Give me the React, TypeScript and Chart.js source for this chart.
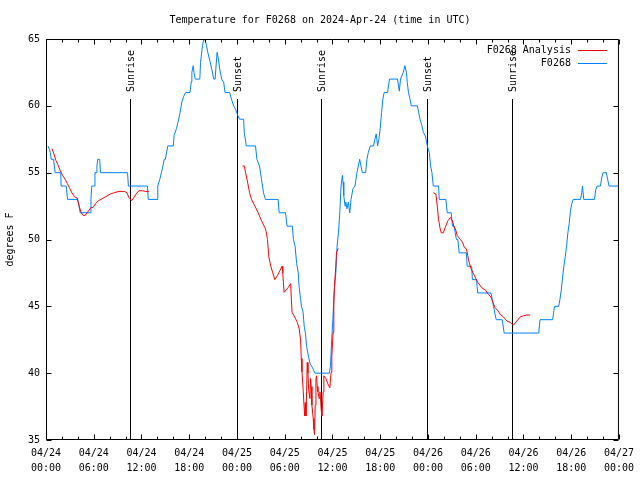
import React, { useEffect, useRef } from "react";
import { Chart, registerables } from "chart.js";

Chart.register(...registerables);

// Hours since 04/24 00:00 UTC
const obsHours = [
  0.25, 0.45, 0.55, 0.65, 0.95, 1.15, 1.85, 1.9, 2.55, 2.7, 4.0, 4.15, 4.3, 5.55, 5.65, 5.75, 6.05, 6.15, 6.3, 6.4,
  6.5, 6.75, 6.85, 10.25, 10.35, 12.75, 12.85, 13.95, 14.05, 14.3, 14.5, 14.7, 14.85, 15.0, 15.3, 16.0,
  16.1, 16.4, 16.67, 16.85, 17.08, 17.3, 17.55, 18.1, 18.25, 18.33, 18.5, 18.6, 18.75, 19.33, 19.42, 19.67, 19.83,
  20.0, 20.17, 20.33, 20.58, 20.83, 21.08, 21.25, 21.5, 21.67, 21.83, 22.08, 22.33, 22.5, 23.08, 23.25, 23.58,
  23.83, 24.08, 24.33, 24.83, 24.92, 25.17, 26.33, 26.5, 26.83, 27.08, 27.33, 27.58, 29.17, 29.3, 30.1, 30.3,
  30.95, 31.1, 31.3, 31.5, 31.7, 31.8, 32.0, 32.1, 32.3, 32.45, 32.6, 32.75, 33.0, 33.2, 33.5, 33.8, 35.6,
  35.75, 35.9, 36.05, 36.2, 36.42, 36.58, 36.75, 36.92, 37.08, 37.25, 37.33, 37.42, 37.58, 37.67, 37.83, 38.0,
  38.17, 38.33, 38.58, 38.83, 39.08, 39.25, 39.42, 39.58, 39.75, 40.17, 40.33, 40.5, 40.75, 41.17, 41.33, 41.5,
  41.67, 41.83, 42.0, 42.17, 42.33, 42.5, 42.92, 43.17, 44.17, 44.4, 44.55, 44.9, 45.1, 45.3, 45.4, 45.55,
  45.75, 45.9, 46.67, 46.83, 47.0, 47.25, 47.42, 47.67, 47.92, 48.17, 48.33, 48.5, 48.67, 49.33, 49.42, 50.25,
  50.42, 50.92, 51.08, 51.3, 51.42, 51.58, 51.75, 51.92, 52.83, 52.92, 53.5, 53.58, 54.1, 54.25, 55.92, 56.08,
  56.25, 56.4, 56.58, 57.33, 57.58, 61.92, 62.08, 63.67, 63.83, 63.92, 64.42, 64.58, 64.75, 64.92, 65.08, 65.25,
  65.42, 65.58, 65.75, 65.92, 66.08, 66.25, 67.17, 67.33, 67.42, 67.58, 68.92, 69.08, 69.25, 69.67, 69.83, 70.0,
  70.42, 70.58, 70.75, 71.9,
];
const obsTemps = [
  57, 56.7, 56.5, 56, 56, 55, 55, 54, 54, 53, 53, 52.5, 52, 52, 53, 54, 54, 55, 55, 55.5,
  56, 56, 55, 55, 54, 54, 53, 53, 54, 54.5, 55, 55.5, 56, 56, 57, 57,
  57.8, 58.3, 59, 59.5, 60.3, 60.7, 61, 61, 61.8, 62.5, 63, 62.5, 62, 62, 63.25, 64.5, 65,
  64.9, 64.5, 64, 63.4, 62.75, 62, 62, 64, 63.5, 62.75, 62, 61.75, 61, 61, 60.6, 60,
  59.75, 59.3, 59, 59, 58, 57, 57, 56, 55.5, 54.5, 53.5, 53, 53, 52, 52, 51,
  51, 50, 49.5, 48.2, 47.5, 46.5, 45.5, 45, 44.6, 43.5, 43, 42, 41.2, 40.7, 40.4, 40, 40,
  40.5, 42.5, 44, 46, 47.5, 49.5, 50.5, 52, 54, 54.8, 54.3, 53.3, 52.5, 52.8, 52.3, 52.8,
  52, 53, 53.8, 54, 55, 55.5, 56, 55.5, 55, 55, 56, 56.5, 57, 57, 57.5, 57.9,
  57, 57.5, 58.3, 59.5, 60.5, 61, 61, 62, 62, 61.1, 62, 62.5, 63, 62.5, 61.75, 61,
  60.5, 60, 60, 59.5, 59, 58.5, 58, 57.75, 57, 56.5, 55.5, 55, 54, 54, 53, 53,
  52, 52, 51, 51, 50.5, 50, 50, 49, 49, 48, 48, 47, 47, 46, 46, 45.5,
  45, 44.5, 44, 44, 43, 43, 44, 44, 44.7, 45, 45, 45.5, 46.2, 47.2, 48, 48.7,
  49.5, 50.5, 51.2, 52.2, 52.7, 53, 53, 53.5, 54, 53, 53, 53.7, 54, 54, 54.6, 55,
  55, 54.5, 54, 54,
];

// Analysis series (null = gap)
const anaHours = [
  0.75, 1.0, 1.25, 1.5, 1.75, 2.08, 2.42, 2.67, 2.92, 3.25, 3.58, 3.92, 4.17, 4.42, 4.67, 4.92, 5.17, 5.42, 5.67,
  5.92, 6.25, 6.58, 6.92, 7.5, 8.08, 8.58, 9.17, 9.83, 10.17, 10.42, 10.75, 11.0, 11.33, 11.67, 12.08, 12.5, 12.92,
  18.0,
  24.67, 24.92, 25.08, 25.33, 25.58, 25.83, 26.25, 26.67, 27.08, 27.5, 27.67, 27.83, 28.0, 28.25, 28.5, 28.75,
  29.08, 29.42, 29.67, 29.75, 29.83, 29.92, 30.42, 30.75, 30.83, 30.92, 31.25, 31.58, 31.83, 32.0, 32.08, 32.17,
  32.33, 32.5, 32.58, 32.67, 32.75, 32.83, 32.92, 33.0, 33.17, 33.25, 33.33, 33.42, 33.58, 33.67, 33.75, 33.83,
  33.92, 34.0, 34.08, 34.17, 34.33, 34.42, 34.5, 34.58, 34.67, 34.75, 34.83, 34.92, 35.17, 35.42, 35.67, 35.83,
  35.92, 36.08, 36.17, 36.25, 36.42, 36.5, 36.67, 36.75,
  42.0,
  48.67, 49.0, 49.17, 49.33, 49.5, 49.67, 49.92, 50.17, 50.5, 50.83, 51.08, 51.25, 51.5, 51.67, 52.08, 52.33,
  52.58, 52.83, 53.0, 53.17, 53.42, 53.67, 53.92, 54.25, 54.75, 55.25, 55.58, 55.92, 56.17, 56.42, 56.75, 57.08,
  57.5, 57.92, 58.33, 58.75, 59.17, 59.58, 60.0, 60.4, 60.83,
];
const anaTemps = [
  56.8, 56.4, 55.9, 55.6, 55.2, 54.8, 54.5, 54.2, 53.9, 53.5, 53.2, 53.1, 52.5, 52.0, 51.8, 51.8, 52.0, 52.2, 52.4,
  52.4, 52.7, 52.9, 53.0, 53.2, 53.4, 53.5, 53.6, 53.6, 53.5, 53.15, 52.9, 53.1, 53.4, 53.65, 53.65, 53.6, 53.6,
  null,
  55.5, 55.5, 55.0, 54.3, 53.5, 53.0, 52.5, 52.0, 51.4, 50.9, 50.6, 50.0, 48.7, 48.0, 47.5, 47.0,
  47.3, 47.7, 48.0, 47.5, 46.8, 46.05, 46.4, 46.7, 45.55, 44.55, 44.2, 43.8, 43.3, 42.4, 41.1, 40.1,
  38.6, 36.8, 37.8, 36.8, 38.6, 40.8, 40.0, 38.8, 38.1, 39.6, 39.0, 37.6, 36.6, 35.8, 35.4, 37.6,
  39.6, 39.8, 39.0, 38.6, 38.1, 38.6, 38.1, 37.3, 36.8, 37.6, 38.6, 39.8, 39.6, 39.2, 38.9, 40.06,
  41.3, 43.05, 45.05, 46.5, 48.0, 49.0, 49.3, 49.3,
  null,
  53.5, 53.4, 52.5, 51.5, 50.9, 50.5, 50.5, 50.9, 51.4, 51.65, 51.4, 51.0, 50.7, 50.3, 50.0, 49.8,
  49.4, 49.3, 48.8, 48.3, 47.8, 47.5, 47.2, 46.8, 46.4, 46.2, 45.9, 45.7, 45.3, 44.9, 44.7, 44.4,
  44.2, 43.9, 43.8, 43.6, 43.9, 44.2, 44.3, 44.35, 44.35,
];

const sunEventHours = [10.6, 24.04, 34.5, 47.92, 58.54];
const sunEventLabels = ["Sunrise", "Sunset", "Sunrise", "Sunset", "Sunrise"];

const xTickDates = ["04/24", "04/24", "04/24", "04/24", "04/25", "04/25", "04/25", "04/25", "04/26", "04/26", "04/26", "04/26", "04/27"];
const xTickTimes = ["00:00", "06:00", "12:00", "18:00", "00:00", "06:00", "12:00", "18:00", "00:00", "06:00", "12:00", "18:00", "00:00"];

const titleText = "Temperature for F0268 on 2024-Apr-24 (time in UTC)";
const yAxisTitle = "degrees F";
const seriesNames = ["F0268 Analysis", "F0268"];
const seriesColors = ["#ff0000", "#0080ff"];

const FONT = "DejaVu Sans Mono";

const decorPlugin = {
  id: "decor",
  beforeDatasetsDraw(chart: any) {
    const { ctx, chartArea, scales } = chart;
    const xs = scales.x;
    ctx.save();
    ctx.strokeStyle = "#000";
    ctx.lineWidth = 1;
    ctx.fillStyle = "#000";
    ctx.font = `10px "${FONT}"`;
    sunEventHours.forEach((h, i) => {
      const px = Math.round(xs.getPixelForValue(h)) + 0.5;
      ctx.beginPath();
      ctx.moveTo(px, chartArea.top + 60);
      ctx.lineTo(px, chartArea.bottom);
      ctx.stroke();
      ctx.save();
      ctx.translate(px + 1, chartArea.top + 53);
      ctx.rotate(-Math.PI / 2);
      ctx.textAlign = "left";
      ctx.textBaseline = "middle";
      ctx.fillText(sunEventLabels[i], 0, 0);
      ctx.restore();
    });
    ctx.restore();
  },
  afterDraw(chart: any) {
    const { ctx, chartArea, scales } = chart;
    const xs = scales.x;
    const ys = scales.y;
    const L = chartArea.left + 0.5;
    const R = chartArea.right - 0.5;
    const T = chartArea.top + 0.5;
    const B = chartArea.bottom - 0.5;
    ctx.save();
    ctx.strokeStyle = "#000";
    ctx.lineWidth = 1;
    ctx.beginPath();
    ctx.rect(L, T, R - L, B - T);
    // x ticks (major every 6h, minor every 2h)
    for (let h = 0; h <= 72; h += 2) {
      const px = Math.round(xs.getPixelForValue(h)) + 0.5;
      const len = h % 6 === 0 ? 5 : 3;
      ctx.moveTo(px, B);
      ctx.lineTo(px, B - len);
      ctx.moveTo(px, T);
      ctx.lineTo(px, T + len);
    }
    for (let v = 35; v <= 65; v += 5) {
      const py = Math.round(ys.getPixelForValue(v)) + 0.5;
      ctx.moveTo(L, py);
      ctx.lineTo(L + 5, py);
      ctx.moveTo(R, py);
      ctx.lineTo(R - 5, py);
    }
    ctx.stroke();

    ctx.fillStyle = "#000";
    ctx.font = `10px "${FONT}"`;
    // title
    ctx.textAlign = "center";
    ctx.textBaseline = "middle";
    ctx.fillText(titleText, 320, 20);
    // y axis title
    ctx.save();
    ctx.translate(10, (chartArea.top + chartArea.bottom) / 2);
    ctx.rotate(-Math.PI / 2);
    ctx.fillText(yAxisTitle, 0, 0);
    ctx.restore();
    // legend
    ctx.textAlign = "right";
    seriesNames.forEach((name, i) => {
      const y = chartArea.top + 11 + i * 13;
      ctx.fillStyle = "#000";
      ctx.fillText(name, chartArea.right - 48, y);
      ctx.strokeStyle = seriesColors[i];
      ctx.beginPath();
      ctx.moveTo(chartArea.right - 41, Math.round(y) + 0.5);
      ctx.lineTo(chartArea.right - 12, Math.round(y) + 0.5);
      ctx.stroke();
    });
    ctx.restore();
  },
};

export default function App() {
  const canvasRef = useRef<HTMLCanvasElement | null>(null);

  useEffect(() => {
    const canvas = canvasRef.current;
    if (!canvas) return;
    const chart = new Chart(canvas, {
      type: "line",
      data: {
        datasets: [
          {
            label: seriesNames[0],
            data: anaHours.map((h, i) => ({ x: h, y: anaTemps[i] })) as any,
            borderColor: seriesColors[0],
            borderWidth: 1,
            pointRadius: 0,
            tension: 0,
            spanGaps: false,
          },
          {
            label: seriesNames[1],
            data: obsHours.map((h, i) => ({ x: h, y: obsTemps[i] })) as any,
            borderColor: seriesColors[1],
            borderWidth: 1,
            pointRadius: 0,
            tension: 0,
          },
        ],
      },
      options: {
        animation: false,
        responsive: false,
        devicePixelRatio: 1,
        layout: { padding: { top: 39, right: 18, left: 0, bottom: 0 } },
        plugins: {
          legend: { display: false },
          title: { display: false },
          tooltip: { enabled: false },
        },
        scales: {
          x: {
            type: "linear",
            min: 0,
            max: 72,
            grid: { display: false, drawTicks: false },
            border: { display: false },
            ticks: {
              stepSize: 6,
              autoSkip: false,
              maxRotation: 0,
              minRotation: 0,
              padding: 6,
              color: "#000",
              font: { family: FONT, size: 10, lineHeight: 1.5 },
              callback: (v: any) => {
                const i = Math.round(Number(v) / 6);
                return [xTickDates[i], xTickTimes[i]];
              },
            },
            afterFit: (s: any) => {
              s.height = 40;
            },
          },
          y: {
            type: "linear",
            min: 35,
            max: 65,
            grid: { display: false, drawTicks: false },
            border: { display: false },
            ticks: {
              stepSize: 5,
              padding: 6,
              color: "#000",
              font: { family: FONT, size: 10 },
            },
            afterFit: (s: any) => {
              s.width = 46;
            },
          },
        },
      },
      plugins: [decorPlugin],
    });
    return () => chart.destroy();
  }, []);

  return (
    <div style={{ position: "absolute", left: 0, top: 0, width: 640, height: 480, background: "#fff" }}>
      <canvas ref={canvasRef} width={640} height={480} style={{ display: "block", width: 640, height: 480 }} />
    </div>
  );
}
